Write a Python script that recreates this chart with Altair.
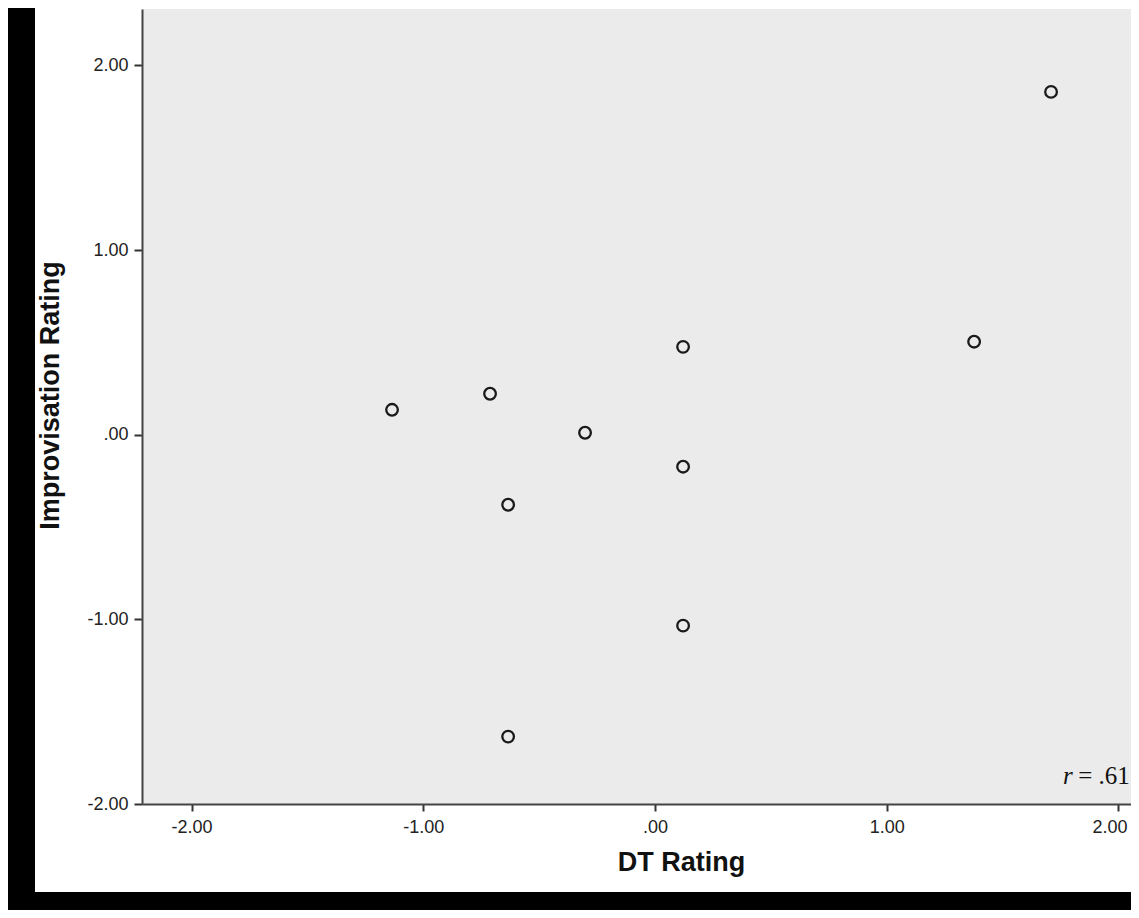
import altair as alt
import pandas as pd

# ---- data ----
dt_rating = [-1.135, -0.712, -0.634, -0.634, -0.302, 0.121, 0.121, 0.121, 1.377, 1.709]
improv_rating = [0.135, 0.222, -0.379, -1.635, 0.011, 0.476, -0.173, -1.034, 0.504, 1.857]
x_ticks = [-2, -1, 0, 1, 2]
y_ticks = [-2, -1, 0, 1, 2]
x_domain = [-2.214, 2.054]
y_domain = [-2.0, 2.306]
r_label_italic = ["r"]
r_label_rest = ["= .61"]
r_pos_x = [1.761, 1.826]
r_pos_y = [-1.89, -1.89]

df = pd.DataFrame({"dt": dt_rating, "imp": improv_rating})
df_r1 = pd.DataFrame({"x": [r_pos_x[0]], "y": [r_pos_y[0]], "t": r_label_italic})
df_r2 = pd.DataFrame({"x": [r_pos_x[1]], "y": [r_pos_y[1]], "t": r_label_rest})
df_one = pd.DataFrame({"a": [0]})

W, H = 989, 795
FONT = "Liberation Sans"

label_expr = ("datum.value == 0 ? '.00' : (datum.value < 0 ? '-' + format(abs(datum.value), '.2f')"
              " : format(datum.value, '.2f'))")

x_scale = alt.Scale(domain=x_domain, nice=False, zero=False)
y_scale = alt.Scale(domain=y_domain, nice=False, zero=False)

x_axis = alt.Axis(values=x_ticks, labelExpr=label_expr, title="DT Rating", grid=False,
                  tickSize=7, labelPadding=7, labelFontSize=18, labelFont=FONT, labelColor="#222",
                  labelOffset={"condition": {"test": "datum.value == 2", "value": -9}, "value": 0},
                  titleFont=FONT, titleFontSize=27, titleFontWeight="bold", titleColor="#111",
                  titleX=539, titleY=66, titleBaseline="alphabetic",
                  domainColor="#444", domainWidth=2, tickColor="#333", tickWidth=2,
                  labelFlush=False, labelOverlap=False)
y_axis = alt.Axis(values=y_ticks, labelExpr=label_expr, title="Improvisation Rating", grid=False,
                  tickSize=8, labelPadding=6, labelFontSize=18, labelFont=FONT, labelColor="#222",
                  titleFont=FONT, titleFontSize=27, titleFontWeight="bold", titleColor="#111",
                  titleX=-84, titleY=386, titleBaseline="alphabetic",
                  domainColor="#444", domainWidth=2, tickColor="#333", tickWidth=2,
                  labelFlush=False, labelOverlap=False)

points = alt.Chart(df).mark_point(shape="circle", filled=False, size=135, strokeWidth=2.3,
                                  color="#1a1a1a", opacity=1).encode(
    x=alt.X("dt:Q", scale=x_scale, axis=x_axis),
    y=alt.Y("imp:Q", scale=y_scale, axis=y_axis),
)

r1 = alt.Chart(df_r1).mark_text(font="Liberation Serif", fontStyle="italic", fontSize=25,
                                align="left", baseline="alphabetic", color="#111").encode(
    x=alt.X("x:Q", scale=x_scale), y=alt.Y("y:Q", scale=y_scale), text="t:N")
r2 = alt.Chart(df_r2).mark_text(font="Liberation Serif", fontSize=25,
                                align="left", baseline="alphabetic", color="#111").encode(
    x=alt.X("x:Q", scale=x_scale), y=alt.Y("y:Q", scale=y_scale), text="t:N")

frame_left = alt.Chart(df_one).mark_rect(color="black").encode(
    x=alt.value(-134), x2=alt.value(-107), y=alt.value(-1), y2=alt.value(901))
frame_bottom = alt.Chart(df_one).mark_rect(color="black").encode(
    x=alt.value(-134), x2=alt.value(989), y=alt.value(883), y2=alt.value(901))

chart = alt.layer(points, r1, r2, frame_left, frame_bottom).properties(
    width=W, height=H,
    autosize=alt.AutoSizeParams(type="none"),
    padding={"left": 134, "top": 1, "right": 0, "bottom": 106},
    background="white",
).configure_view(fill="#ebebeb", strokeWidth=0)

chart.save("out.html", embed_options={"renderer": "svg", "actions": False})
